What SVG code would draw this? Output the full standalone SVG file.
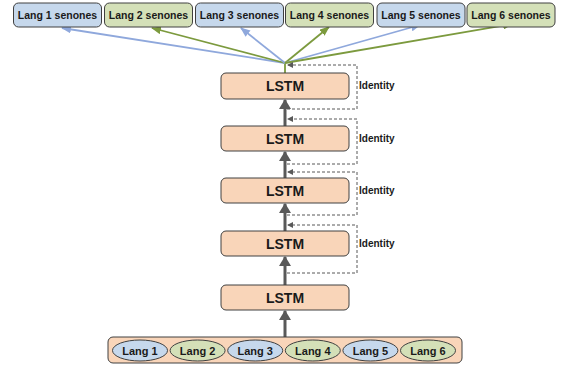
<svg xmlns="http://www.w3.org/2000/svg" width="564" height="371" viewBox="0 0 564 371">
<style>
text{font-family:"Liberation Sans",Arial,sans-serif;font-weight:bold;fill:#1a1a1a;text-anchor:middle}
.sen{font-size:10.5px}
.lstm{font-size:14px}
.idt{font-size:10px;text-anchor:start}
.lang{font-size:11px}
.blue{fill:#c6d8ec;stroke:#404040;stroke-width:1}
.green{fill:#d4e0b8;stroke:#404040;stroke-width:1}
.peach{fill:#f9d5b9;stroke:#404040;stroke-width:1}
.ba{stroke:#8fa8dc;stroke-width:1.8;fill:none}
.ga{stroke:#7c9a3e;stroke-width:1.8;fill:none}
.main{stroke:#595959;stroke-width:3;fill:none}
.dash{stroke:#595959;stroke-width:1;stroke-dasharray:3,2;fill:none}
</style>
<defs>
<marker id="mb" markerUnits="userSpaceOnUse" markerWidth="10" markerHeight="8" refX="9" refY="4" orient="auto"><path d="M0,0 L10,4 L0,8 z" fill="#8fa8dc"/></marker>
<marker id="mg" markerUnits="userSpaceOnUse" markerWidth="10" markerHeight="8" refX="9" refY="4" orient="auto"><path d="M0,0 L10,4 L0,8 z" fill="#7c9a3e"/></marker>
<marker id="mm" markerUnits="userSpaceOnUse" markerWidth="10" markerHeight="12" refX="9" refY="6" orient="auto"><path d="M0,0 L10,6 L0,12 z" fill="#595959"/></marker>
<marker id="md" markerUnits="userSpaceOnUse" markerWidth="6" markerHeight="6" refX="5" refY="3" orient="auto"><path d="M0,0 L6,3 L0,6 z" fill="#595959"/></marker>
</defs>

<g id="connectors">
<line class="ga" x1="285" y1="73" x2="285" y2="63"/>
<line class="ba" x1="285" y1="63" x2="62" y2="28" marker-end="url(#mb)"/>
<line class="ga" x1="285" y1="63" x2="152" y2="28" marker-end="url(#mg)"/>
<line class="ba" x1="285" y1="63" x2="241" y2="28" marker-end="url(#mb)"/>
<line class="ga" x1="285" y1="63" x2="329" y2="27" marker-end="url(#mg)"/>
<line class="ba" x1="285" y1="63" x2="420" y2="25" marker-end="url(#mb)"/>
<line class="ga" x1="285" y1="63" x2="512" y2="24" marker-end="url(#mg)"/>
<line class="main" x1="285" y1="126" x2="285" y2="100" marker-end="url(#mm)"/>
<line class="main" x1="285" y1="178" x2="285" y2="152" marker-end="url(#mm)"/>
<line class="main" x1="285" y1="231" x2="285" y2="204" marker-end="url(#mm)"/>
<line class="main" x1="285" y1="285" x2="285" y2="257" marker-end="url(#mm)"/>
<line class="main" x1="285" y1="337" x2="285" y2="311" marker-end="url(#mm)"/>
<path class="dash" d="M287,109 H357 V65 H288" marker-end="url(#md)"/>
<path class="dash" d="M287,164 H357 V119 H288" marker-end="url(#md)"/>
<path class="dash" d="M287,215 H357 V172 H288" marker-end="url(#md)"/>
<path class="dash" d="M287,273 H357 V225 H288" marker-end="url(#md)"/>
<text class="idt" x="359" y="89">Identity</text>
<text class="idt" x="359" y="142">Identity</text>
<text class="idt" x="359" y="194">Identity</text>
<text class="idt" x="359" y="247">Identity</text>
</g>

<g id="sen1"><rect class="blue" x="13.5" y="3" width="88" height="24" rx="5"/><text class="sen" x="57.5" y="19">Lang 1 senones</text></g>
<g id="sen2"><rect class="green" x="104.5" y="3" width="88" height="24" rx="5"/><text class="sen" x="148.5" y="19">Lang 2 senones</text></g>
<g id="sen3"><rect class="blue" x="195.5" y="3" width="88" height="24" rx="5"/><text class="sen" x="239.5" y="19">Lang 3 senones</text></g>
<g id="sen4"><rect class="green" x="285.5" y="3" width="88" height="24" rx="5"/><text class="sen" x="329.5" y="19">Lang 4 senones</text></g>
<g id="sen5"><rect class="blue" x="377" y="3" width="88" height="24" rx="5"/><text class="sen" x="421" y="19">Lang 5 senones</text></g>
<g id="sen6"><rect class="green" x="467" y="3" width="88" height="24" rx="5"/><text class="sen" x="511" y="19">Lang 6 senones</text></g>

<g id="lstm1"><rect class="peach" x="221" y="73" width="128" height="26" rx="5"/><text class="lstm" x="285" y="91">LSTM</text></g>
<g id="lstm2"><rect class="peach" x="221" y="126" width="128" height="25" rx="5"/><text class="lstm" x="285" y="143.5">LSTM</text></g>
<g id="lstm3"><rect class="peach" x="221" y="178" width="128" height="25" rx="5"/><text class="lstm" x="285" y="195.5">LSTM</text></g>
<g id="lstm4"><rect class="peach" x="221" y="231" width="128" height="25" rx="5"/><text class="lstm" x="285" y="248.5">LSTM</text></g>
<g id="lstm5"><rect class="peach" x="221" y="285" width="128" height="25" rx="5"/><text class="lstm" x="285" y="302.5">LSTM</text></g>

<g id="input">
<rect class="peach" x="108" y="337" width="354" height="26" rx="5"/>
<g id="lang1"><ellipse class="blue" cx="140" cy="350.5" rx="27.5" ry="10.5"/><text class="lang" x="140" y="354.5">Lang 1</text></g>
<g id="lang2"><ellipse class="green" cx="197.6" cy="350.5" rx="27.5" ry="10.5"/><text class="lang" x="197.6" y="354.5">Lang 2</text></g>
<g id="lang3"><ellipse class="blue" cx="255.2" cy="350.5" rx="27.5" ry="10.5"/><text class="lang" x="255.2" y="354.5">Lang 3</text></g>
<g id="lang4"><ellipse class="green" cx="312.8" cy="350.5" rx="27.5" ry="10.5"/><text class="lang" x="312.8" y="354.5">Lang 4</text></g>
<g id="lang5"><ellipse class="blue" cx="370.4" cy="350.5" rx="27.5" ry="10.5"/><text class="lang" x="370.4" y="354.5">Lang 5</text></g>
<g id="lang6"><ellipse class="green" cx="428" cy="350.5" rx="27.5" ry="10.5"/><text class="lang" x="428" y="354.5">Lang 6</text></g>
</g>
</svg>
